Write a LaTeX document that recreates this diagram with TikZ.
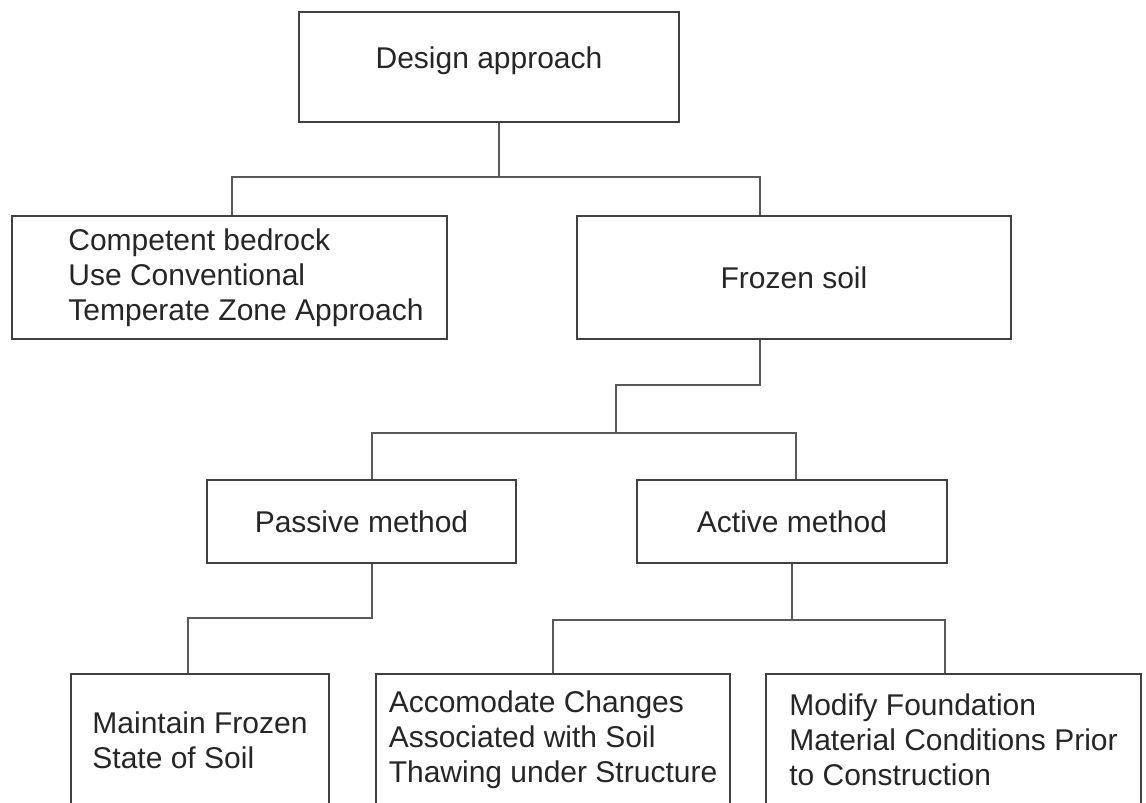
\documentclass[tikz,border=0pt]{standalone}
\usepackage{fontspec}
\setmainfont{Liberation Sans}
\usepackage{tikz}
\usetikzlibrary{positioning, calc}

\tikzset{
  box/.style={draw=black!75, line width=1.5pt, inner sep=0pt, align=left, text=black!85, font=\fontsize{30}{35}\selectfont},
  link/.style={draw=black!65, line width=1.5pt}
}
\newcommand{\indnt}{\hspace*{33pt}}

\begin{document}
\begin{tikzpicture}[x=1pt, y=-1pt]
  \useasboundingbox (0,0) rectangle (1146,803);
  \clip (0,0) rectangle (1146,803);

  % Top
  \node[box, minimum width=380, minimum height=110, text height=22pt, text depth=20pt] (design) at (489,67) {Design approach};

  % Ground type
  \node[box, minimum width=435, minimum height=123] (bedrock) at (229.5,277.5) {\indnt Competent bedrock\\\indnt Use Conventional\\\indnt Temperate Zone Approach};
  \node[box, minimum width=434, minimum height=123] (frozen) at (794,277.5) {Frozen soil};

  % Methods
  \node[box, minimum width=309, minimum height=83] (passive) at (361.5,521.5) {Passive method};
  \node[box, minimum width=310, minimum height=83] (active) at (792,521.5) {Active method};

  % Bottom
  \node[box, minimum width=258, minimum height=132] (maintain) at (200,740) {Maintain Frozen\\State of Soil};
  \node[box, minimum width=354, minimum height=132] (accom) at (553,740) {Accomodate Changes\\Associated with Soil\\Thawing under Structure};
  \node[box, minimum width=375, minimum height=132] (modify) at (953.5,740) {Modify Foundation\\Material Conditions Prior\\to Construction};

  % Connectors
  \coordinate (ja) at (499,177);
  \coordinate (jb) at (616,385);
  \coordinate (jc) at (616,433);
  \coordinate (jd) at (372,618);
  \coordinate (je) at (792,620);

  \draw[link] ([xshift=10pt]design.south) -- (ja);
  \draw[link] ([xshift=2.5pt]bedrock.north) |- (ja) -| ([xshift=-34pt]frozen.north);

  \draw[link] ([xshift=-34pt]frozen.south) |- (jb) -- (jc);
  \draw[link] ([xshift=10.5pt]passive.north) |- (jc) -| ([xshift=4pt]active.north);

  \draw[link] ([xshift=10.5pt]passive.south) -- (jd) -| ([xshift=-12pt]maintain.north);
  \draw[link] (active.south) -- (je);
  \draw[link] (accom.north) |- (je) -| ([xshift=-8.5pt]modify.north);
\end{tikzpicture}
\end{document}
